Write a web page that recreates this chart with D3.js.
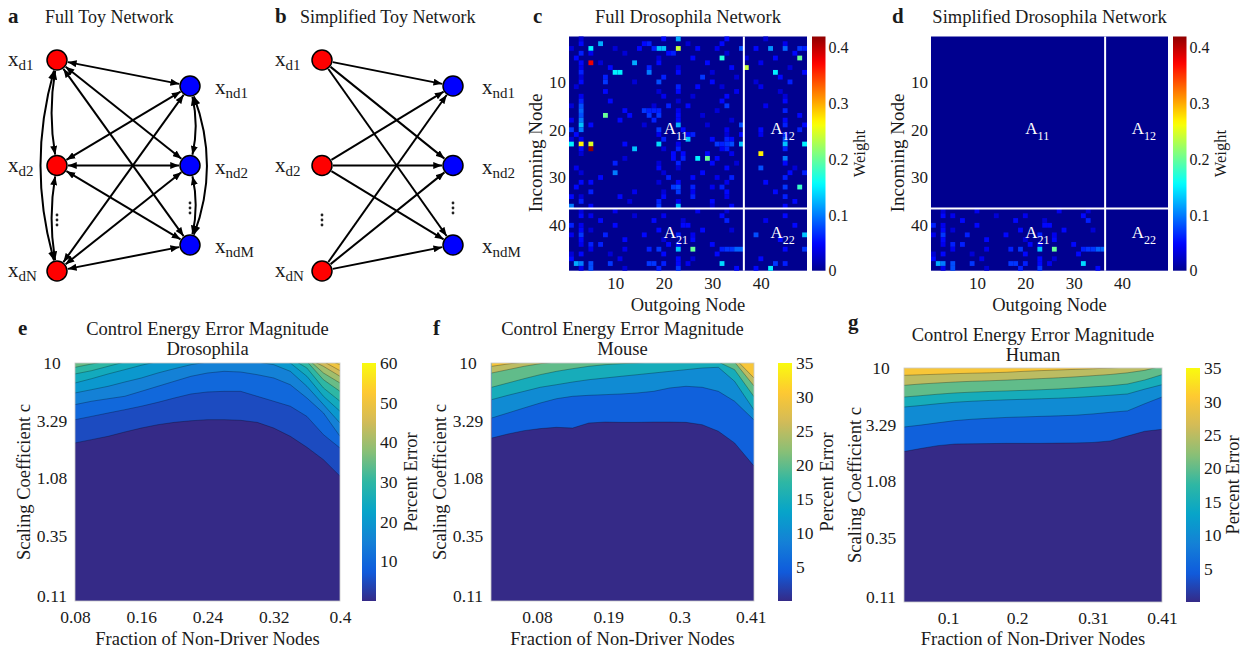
<!DOCTYPE html>
<html>
<head>
<meta charset="utf-8">
<script src="https://cdn.jsdelivr.net/npm/d3@7"></script>
<style>
body{margin:0;background:#fff}
svg text{font-family:"Liberation Serif","Times New Roman",serif;fill:#1a1a1a}
</style>
</head>
<body>
<div id="figura"></div>
<script>
// ---------- data ----------
// toy networks
var driverNames=["d1","d2","dN"]
var nonDriverNames=["nd1","nd2","ndM"]

// drosophila connectivity: [incoming row, outgoing column, weight]
var nodeCount=49
var nonDriverCount=36
var weightMax=0.42
var nodeTicks=[10,20,30,40]
var weightTicks=[0,0.1,0.2,0.3,0.4]
var weightCells=[
 [1,23,0.12],[1,20,0.05],[1,33,0.05],[1,3,0.03],[1,41,0.03],
 [2,7,0.12],[2,3,0.05],[2,16,0.05],[2,17,0.06],[2,32,0.05],[2,25,0.03],[2,45,0.04],
 [3,5,0.15],[3,19,0.13],[3,20,0.13],[3,23,0.24],[3,36,0.08],[3,42,0.11],[3,45,0.09],[3,48,0.07],[3,15,0.05],[3,18,0.06],[3,27,0.05],[3,39,0.05],[3,49,0.06],[3,1,0.03],[3,10,0.03],[3,31,0.04],
 [4,3,0.06],[4,21,0.05],[4,22,0.06],[4,47,0.05],[4,5,0.04],[4,12,0.03],[4,33,0.03],
 [5,32,0.17],[5,48,0.2],[5,2,0.05],[5,26,0.05],[5,43,0.05],[5,19,0.03],[5,37,0.03],
 [6,5,0.38],[6,14,0.12],[6,3,0.05],[6,19,0.05],[6,29,0.05],[6,7,0.03],[6,40,0.04],
 [7,37,0.24],[7,9,0.05],[7,17,0.06],[7,34,0.05],[7,3,0.04],[7,23,0.03],[7,46,0.03],
 [8,10,0.15],[8,11,0.15],[8,17,0.1],[8,3,0.06],[8,23,0.05],[8,43,0.15],[8,49,0.05],[8,30,0.03],
 [9,8,0.06],[9,20,0.06],[9,28,0.07],[9,44,0.05],[9,3,0.03],[9,35,0.03],
 [10,8,0.07],[10,19,0.08],[10,30,0.05],[10,3,0.05],[10,46,0.06],[10,14,0.03],[10,39,0.03],
 [11,27,0.05],[11,23,0.06],[11,40,0.04],[11,2,0.03],[11,32,0.03],
 [12,8,0.05],[12,23,0.05],[12,35,0.04],[12,19,0.03],[12,44,0.03],
 [13,33,0.05],[13,20,0.04],[13,3,0.04],[13,26,0.03],[13,45,0.03],
 [14,3,0.06],[14,9,0.05],[14,32,0.05],[14,45,0.05],[14,23,0.03],
 [15,3,0.08],[15,21,0.06],[15,33,0.07],[15,25,0.05],[15,41,0.04],[15,1,0.03],[15,18,0.03],
 [16,3,0.09],[16,16,0.07],[16,17,0.06],[16,18,0.06],[16,19,0.06],[16,12,0.05],[16,45,0.06],[16,23,0.04],[16,31,0.03],
 [17,8,0.2],[17,3,0.08],[17,17,0.07],[17,19,0.07],[17,13,0.05],[17,23,0.05],[17,48,0.05],[17,28,0.03],
 [18,3,0.1],[18,11,0.05],[18,18,0.06],[18,23,0.05],[18,45,0.05],[18,1,0.04],[18,34,0.03],
 [19,3,0.13],[19,23,0.12],[19,5,0.05],[19,36,0.08],[19,45,0.06],[19,49,0.05],[19,16,0.03],[19,29,0.03],
 [20,3,0.1],[20,1,0.07],[20,19,0.07],[20,24,0.05],[20,40,0.05],[20,48,0.06],[20,33,0.04],
 [21,2,0.05],[21,25,0.05],[21,26,0.06],[21,36,0.05],[21,40,0.04],[21,45,0.06],[21,19,0.04],[21,33,0.03],
 [22,25,0.13],[22,20,0.06],[22,30,0.05],[22,33,0.06],[22,34,0.05],[22,45,0.08],[22,3,0.04],[22,1,0.03],
 [23,1,0.15],[23,3,0.27],[23,5,0.25],[23,19,0.14],[23,36,0.13],[23,45,0.13],[23,49,0.15],[23,12,0.05],[23,31,0.07],[23,32,0.06],[23,33,0.07],[23,34,0.08],[23,23,0.04],
 [24,5,0.42],[24,14,0.13],[24,3,0.05],[24,23,0.06],[24,33,0.06],[24,45,0.06],[24,32,0.04],[24,20,0.03],
 [25,40,0.27],[25,22,0.05],[25,24,0.05],[25,29,0.05],[25,34,0.04],[25,3,0.03],
 [26,27,0.15],[26,29,0.2],[26,45,0.1],[26,22,0.05],[26,31,0.05],[26,24,0.06],[26,12,0.03],
 [27,10,0.06],[27,23,0.06],[27,30,0.05],[27,45,0.05],[27,19,0.03],[27,35,0.03],
 [28,40,0.08],[28,19,0.05],[28,33,0.05],[28,2,0.04],[28,23,0.03],[28,47,0.03],
 [29,10,0.1],[29,28,0.05],[29,46,0.05],[29,49,0.06],[29,3,0.03],[29,20,0.03],
 [30,7,0.05],[30,21,0.06],[30,26,0.05],[30,34,0.06],[30,45,0.06],[30,31,0.04],
 [31,3,0.05],[31,5,0.05],[31,23,0.05],[31,41,0.05],[31,19,0.03],[31,33,0.04],
 [32,48,0.18],[32,23,0.08],[32,22,0.07],[32,26,0.06],[32,32,0.06],[32,2,0.05],[32,45,0.07],[32,30,0.04],
 [33,5,0.06],[33,23,0.07],[33,33,0.05],[33,14,0.04],[33,43,0.05],[33,20,0.03],[33,26,0.04],
 [34,1,0.05],[34,11,0.05],[34,20,0.05],[34,26,0.06],[34,45,0.06],[34,33,0.04],[34,3,0.03],
 [35,3,0.06],[35,19,0.06],[35,30,0.05],[35,47,0.05],[35,23,0.04],[35,13,0.03],
 [36,1,0.1],[36,23,0.13],[36,19,0.07],[36,5,0.05],[36,34,0.05],[36,45,0.05],[36,30,0.03],
 [37,10,0.04],[37,27,0.04],[37,3,0.03],[37,33,0.03],
 [38,3,0.05],[38,5,0.04],[38,20,0.04],[38,32,0.05],[38,45,0.05],[38,14,0.03],
 [39,7,0.05],[39,18,0.05],[39,33,0.06],[39,41,0.04],[39,24,0.03],
 [40,1,0.06],[40,10,0.05],[40,24,0.05],[40,25,0.05],[40,47,0.05],[40,3,0.04],
 [41,3,0.05],[41,19,0.05],[41,28,0.05],[41,5,0.03],[41,34,0.03],
 [42,3,0.07],[42,39,0.08],[42,49,0.13],[42,8,0.06],[42,16,0.05],[42,23,0.06],[42,1,0.04],[42,26,0.04],
 [43,3,0.05],[43,12,0.05],[43,26,0.05],[43,44,0.05],[43,20,0.03],
 [44,5,0.06],[44,7,0.06],[44,21,0.05],[44,30,0.05],[44,23,0.04],[44,3,0.04],
 [45,23,0.13],[45,26,0.2],[45,35,0.09],[45,36,0.09],[45,19,0.07],[45,17,0.06],[45,32,0.06],[45,33,0.07],[45,34,0.07],[45,49,0.07],[45,45,0.05],[45,5,0.04],[45,12,0.04],
 [46,3,0.05],[46,20,0.05],[46,31,0.05],[46,1,0.03],[46,9,0.03],
 [47,1,0.05],[47,23,0.05],[47,11,0.04],[47,40,0.05],[47,26,0.03],
 [48,2,0.12],[48,3,0.1],[48,5,0.08],[48,9,0.07],[48,32,0.14],[48,17,0.07],[48,18,0.07],[48,20,0.06],[48,43,0.07],[48,45,0.06],[48,23,0.05],[48,25,0.04],
 [49,5,0.08],[49,42,0.15],[49,19,0.06],[49,23,0.07],[49,35,0.05],[49,39,0.05],[49,3,0.04],[49,12,0.03]
]

// contour plots: c value of each error level boundary along the fraction axis
var scaleTicks=[0.11,0.35,1.08,3.29,10]

var fracE=[0.08,0.10,0.12,0.14,0.16,0.18,0.20,0.22,0.24,0.26,0.28,0.30,0.32,0.34,0.36,0.38,0.40]
var levelsE=[5,10,15,20,25,30,35,40,45,50,55]
var boundE=[
 [2.13,2.27,2.42,2.63,2.84,3.03,3.17,3.27,3.34,3.34,3.30,3.17,2.84,2.42,1.96,1.54,1.12],
 [3.34,3.56,3.80,4.05,4.33,4.67,5.08,5.49,5.71,5.78,5.78,5.25,4.77,4.33,3.56,2.50,1.93],
 [4.47,4.77,5.01,5.25,5.78,6.37,7.02,7.73,8.24,8.51,8.40,7.98,7.48,6.57,5.08,3.80,2.42],
 [5.60,5.97,6.37,6.92,7.48,8.24,8.96,9.68,10.2,10.3,10.3,10.2,9.68,8.51,6.37,4.47,3.13],
 [6.79,7.38,8.09,8.79,9.57,10.3,11,11,11,11,11,11,11,10.0,7.73,5.25,3.93],
 [8.09,8.62,9.38,10.2,11,11,11,11,11,11,11,11,11,11,9.08,6.17,4.77],
 [9.20,9.81,10.4,11,11,11,11,11,11,11,11,11,11,11,10.3,7.24,5.78],
 [10.05,10.6,11,11,11,11,11,11,11,11,11,11,11,11,11,8.24,6.79],
 [11,11,11,11,11,11,11,11,11,11,11,11,11,11,11,9.38,7.73],
 [11,11,11,11,11,11,11,11,11,11,11,11,11,11,11,10.3,8.62],
 [11,11,11,11,11,11,11,11,11,11,11,11,11,11,11,11,9.68]
]
var fracTicksE=[0.08,0.16,0.24,0.32,0.4]
var errTicksE=[10,20,30,40,50,60]

var fracF=[0.01,0.035,0.06,0.085,0.11,0.135,0.16,0.185,0.21,0.235,0.26,0.285,0.31,0.335,0.36,0.385,0.415]
var levelsF=[5,10,15,20,25,30]
var boundF=[
 [2.34,2.53,2.70,2.81,2.88,2.84,3.13,3.19,3.17,3.17,3.19,3.19,3.17,3.03,2.67,2.13,1.36],
 [3.45,3.80,4.19,4.61,5.01,5.25,5.35,5.42,5.49,5.60,5.78,6.17,6.37,6.25,5.78,4.77,3.32],
 [4.92,5.35,5.78,6.25,6.57,6.92,7.24,7.48,7.73,7.98,8.24,8.51,8.79,9.08,9.20,7.02,4.03],
 [6.25,6.79,7.38,7.98,8.51,8.96,9.38,9.68,9.87,10.0,10.2,10.3,10.3,10.3,10.2,8.79,5.21],
 [8.24,8.79,9.38,9.87,10.2,11,11,11,11,11,11,11,11,11,11,10.2,6.41],
 [9.38,9.81,10.2,11,11,11,11,11,11,11,11,11,11,11,11,11,7.48]
]
var fracTicksF=[0.08,0.19,0.3,0.41]

var fracG=[0.036,0.06,0.085,0.11,0.135,0.16,0.185,0.21,0.235,0.26,0.285,0.31,0.335,0.36,0.385,0.41]
var levelsG=[5,10,15,20,25,30]
var boundG=[
 [1.93,2.05,2.17,2.24,2.25,2.26,2.27,2.27,2.27,2.28,2.29,2.31,2.38,2.62,2.88,2.99],
 [3.13,3.25,3.40,3.55,3.65,3.72,3.78,3.82,3.86,3.90,3.95,4.05,4.18,4.30,4.95,5.65],
 [4.64,4.78,4.95,5.10,5.20,5.28,5.35,5.40,5.46,5.52,5.60,5.72,5.85,6.00,6.60,7.20],
 [5.65,5.80,5.97,6.12,6.22,6.30,6.37,6.44,6.52,6.62,6.75,6.90,7.05,7.30,7.90,8.77],
 [7.11,7.30,7.45,7.59,7.70,7.78,7.88,8.00,8.12,8.25,8.40,8.60,8.80,9.10,9.55,10.4],
 [8.66,8.75,8.85,8.95,9.03,9.10,9.20,9.37,9.50,9.62,9.74,9.85,10.0,10.2,10.5,11]
]
var fracTicksG=[0.1,0.2,0.31,0.41]
var errTicksFG=[5,10,15,20,25,30,35]

// ---------- drawing ----------
var svg=d3.select("#figura").append("svg").attr("width",1257).attr("height",656)
var defs=svg.append("defs")

var parula=d3.piecewise(d3.interpolateRgb,["#352a87","#0f5cdd","#1481d6","#06a4ca","#2eb7a4","#87bf77","#d1bb59","#fec832","#f9fb0e"])
function jet(t){
	// matlab jet(64) starts at 0.5625 blue
	t=0.0156+Math.max(0,Math.min(1,t))*0.9688
	var r=Math.max(0,Math.min(1,1.5-Math.abs(4*t-3)))
	var g=Math.max(0,Math.min(1,1.5-Math.abs(4*t-2)))
	var b=Math.max(0,Math.min(1,1.5-Math.abs(4*t-1)))
	return d3.rgb(r*255,g*255,b*255).toString()
}

function texto(x,y,s,size,anchor,weight){
	return svg.append("text").attr("x",x).attr("y",y)
		.attr("text-anchor",anchor||"start")
		.style("font-size",size+"px")
		.style("font-weight",weight||"normal")
		.text(s)
}
function textoVertical(x,y,s,size){
	return svg.append("text")
		.attr("transform","translate("+x+","+y+") rotate(-90)")
		.attr("text-anchor","middle")
		.style("font-size",size+"px")
		.text(s)
}

// arrow head
defs.append("marker").attr("id","flecha")
	.attr("viewBox","0 -4 10 8").attr("refX",10).attr("refY",0)
	.attr("markerWidth",9).attr("markerHeight",7)
	.attr("markerUnits","userSpaceOnUse")
	.attr("orient","auto-start-reverse")
	.append("path").attr("d","M0,-4L10,0L0,4Z").style("fill","#000")

function toyNetwork(cfg){
	var r=10
	var yD=d3.scalePoint().domain(driverNames).range([60,271])
	var yN=d3.scalePoint().domain(nonDriverNames).range([86,245])
	var P={}
	driverNames.forEach(n=>P[n]={x:cfg.xd,y:yD(n)})
	nonDriverNames.forEach(n=>P[n]={x:cfg.xn,y:yN(n)})
	var g=svg.append("g")

	function recta(a,b,both){
		var dx=b.x-a.x,dy=b.y-a.y,l=Math.hypot(dx,dy),ux=dx/l,uy=dy/l
		var p=g.append("path")
			.attr("d","M"+(a.x+ux*(r+1))+","+(a.y+uy*(r+1))+"L"+(b.x-ux*(r+1))+","+(b.y-uy*(r+1)))
			.style("stroke","#000").style("stroke-width",2).style("fill","none")
			.attr("marker-end","url(#flecha)")
		if(both) p.attr("marker-start","url(#flecha)")
	}
	function curva(a,b,off){
		var cx=(a.x+b.x)/2+off,cy=(a.y+b.y)/2
		function borde(p){var dx=cx-p.x,dy=cy-p.y,l=Math.hypot(dx,dy);return [p.x+dx/l*(r+1),p.y+dy/l*(r+1)]}
		var s=borde(a),e=borde(b)
		g.append("path").attr("d","M"+s+"Q"+cx+","+cy+" "+e)
			.style("stroke","#000").style("stroke-width",2).style("fill","none")
			.attr("marker-end","url(#flecha)").attr("marker-start","url(#flecha)")
	}

	driverNames.forEach(function(d){
		nonDriverNames.forEach(function(n){recta(P[d],P[n],cfg.full)})
	})
	if(cfg.full){
		curva(P.d1,P.d2,-9); curva(P.d2,P.dN,-9); curva(P.d1,P.dN,-30)
		curva(P.nd1,P.nd2,9); curva(P.nd2,P.ndM,9); curva(P.nd1,P.ndM,30)
	}
	// nodes
	g.selectAll(".drv").data(driverNames).enter().append("circle")
		.attr("cx",cfg.xd).attr("cy",d=>yD(d)).attr("r",r)
		.style("fill","#ff0000").style("stroke","#000").style("stroke-width",1.5)
	g.selectAll(".ndrv").data(nonDriverNames).enter().append("circle")
		.attr("cx",cfg.xn).attr("cy",d=>yN(d)).attr("r",r)
		.style("fill","#0000ff").style("stroke","#000").style("stroke-width",1.5)
	// vertical dots
	;[[cfg.xd,220],[cfg.xn,208]].forEach(function(p){
		[-5,0,5].forEach(function(o){
			g.append("circle").attr("cx",p[0]).attr("cy",p[1]+o).attr("r",1.4).style("fill","#222")
		})
	})
	// labels
	function etiqueta(x,y,sub){
		var t=svg.append("text").attr("x",x).attr("y",y).style("font-size","21px")
		t.append("tspan").text("x")
		t.append("tspan").attr("dy",4).style("font-size","15px").text(sub)
	}
	driverNames.forEach(n=>etiqueta(cfg.labD,yD(n)+6,n))
	nonDriverNames.forEach(n=>etiqueta(cfg.labN,yN(n)+8,n))
	texto(cfg.letraX,23,cfg.letra,21,"start","bold")
	texto(cfg.tituloX,23,cfg.titulo,18,"start")
}

function colorbar(cfg){
	var id="grad"+cfg.id
	var grad=defs.append("linearGradient").attr("id",id)
		.attr("x1",0).attr("y1",1).attr("x2",0).attr("y2",0)
	d3.range(0,1.0001,0.02).forEach(function(t){
		grad.append("stop").attr("offset",t).attr("stop-color",cfg.cmap(t))
	})
	svg.append("rect").attr("x",cfg.x).attr("y",cfg.top)
		.attr("width",cfg.w).attr("height",cfg.bottom-cfg.top)
		.style("fill","url(#"+id+")")
	var s=d3.scaleLinear().domain(cfg.domain).range([cfg.bottom,cfg.top])
	svg.append("g").attr("transform","translate("+(cfg.x+cfg.w)+",0)")
		.call(d3.axisRight(s).tickValues(cfg.ticks).tickSize(0).tickPadding(cfg.pad).tickFormat(cfg.fmt))
		.attr("font-size",cfg.size)
		.call(g=>g.select(".domain").remove())
	textoVertical(cfg.labelX,(cfg.top+cfg.bottom)/2,cfg.label,cfg.labelSize)
}

function heatmap(cfg){
	var x=d3.scaleLinear().domain([0.5,nodeCount+0.5]).range([cfg.left,cfg.right])
	var y=d3.scaleLinear().domain([0.5,nodeCount+0.5]).range([cfg.top,cfg.bottom])
	var color=d3.scaleSequential(jet).domain([0,weightMax])
	var cw=x(1.5)-x(0.5), ch=y(1.5)-y(0.5)
	svg.append("rect").attr("x",cfg.left).attr("y",cfg.top)
		.attr("width",cfg.right-cfg.left).attr("height",cfg.bottom-cfg.top)
		.style("fill",color(0))
	svg.append("g").selectAll("rect")
		.data(weightCells.filter(cfg.keep))
		.enter().append("rect")
		.attr("x",d=>x(d[1]-0.5)).attr("y",d=>y(d[0]-0.5))
		.attr("width",cw).attr("height",ch)
		.style("fill",d=>color(d[2]))
	// block separators
	svg.append("line").attr("x1",x(nonDriverCount+0.5)).attr("x2",x(nonDriverCount+0.5))
		.attr("y1",cfg.top).attr("y2",cfg.bottom).style("stroke","#fff").style("stroke-width",2)
	svg.append("line").attr("y1",y(nonDriverCount+0.5)).attr("y2",y(nonDriverCount+0.5))
		.attr("x1",cfg.left).attr("x2",cfg.right).style("stroke","#fff").style("stroke-width",2)
	// block names
	;[["11",20,20.8],["12",42,20.8],["21",20,42.7],["22",42,42.7]].forEach(function(b){
		var t=svg.append("text").attr("x",x(b[1])).attr("y",y(b[2])).style("font-size","17px").style("fill","#fff")
		t.append("tspan").text("A")
		t.append("tspan").attr("dy",6).style("font-size","12px").style("fill","#fff").text(b[0])
	})
	svg.append("g").attr("transform","translate(0,"+cfg.bottom+")")
		.call(d3.axisBottom(x).tickValues(nodeTicks).tickSize(0).tickPadding(6))
		.attr("font-size",17)
		.call(g=>g.select(".domain").remove())
	svg.append("g").attr("transform","translate("+cfg.left+",0)")
		.call(d3.axisLeft(y).tickValues(nodeTicks).tickSize(0).tickPadding(3))
		.attr("font-size",17)
		.call(g=>g.select(".domain").remove())
	texto(cfg.letraX,23,cfg.letra,21,"start","bold")
	texto((cfg.left+cfg.right)/2,23,cfg.titulo,18.5,"middle")
	texto((cfg.left+cfg.right)/2,311,"Outgoing Node",18.5,"middle")
	textoVertical(cfg.yLabX,153,"Incoming Node",19)
	colorbar({id:cfg.letra,x:cfg.right+5,w:13.5,top:cfg.top,bottom:cfg.bottom,cmap:jet,
		domain:[0,weightMax],ticks:weightTicks,fmt:d3.format(".1~f"),pad:3,size:16,
		label:"Weight",labelX:cfg.right+58,labelSize:16.5})
}

function contourPanel(cfg){
	var x=d3.scaleLinear().domain(cfg.xDomain).range([cfg.left,cfg.right])
	var y=d3.scaleLog().domain([0.1,10]).range([cfg.bottom,cfg.top])
	var color=function(v){return parula(v/cfg.vmax)}
	defs.append("clipPath").attr("id","clip"+cfg.id).append("rect")
		.attr("x",cfg.left).attr("y",cfg.top)
		.attr("width",cfg.right-cfg.left).attr("height",cfg.bottom-cfg.top)
	var g=svg.append("g").attr("clip-path","url(#clip"+cfg.id+")")
	g.append("rect").attr("x",cfg.left).attr("y",cfg.top)
		.attr("width",cfg.right-cfg.left).attr("height",cfg.bottom-cfg.top)
		.style("fill",color(0))
	var area=d3.area().x(d=>x(d[0])).y0(d=>y(d[1])).y1(y(50))
	var line=d3.line().x(d=>x(d[0])).y(d=>y(d[1]))
	var curvas=cfg.levels.map((lv,i)=>cfg.frac.map((f,j)=>[f,cfg.bounds[i][j]]))
	curvas.forEach(function(pts,i){
		g.append("path").attr("d",area(pts)).style("fill",color(cfg.levels[i]))
	})
	curvas.forEach(function(pts){
		g.append("path").attr("d",line(pts))
			.style("fill","none").style("stroke","#000").style("stroke-opacity",0.35).style("stroke-width",0.8)
	})
	svg.append("rect").attr("x",cfg.left).attr("y",cfg.top)
		.attr("width",cfg.right-cfg.left).attr("height",cfg.bottom-cfg.top)
		.style("fill","none").style("stroke","#c8c8c8").style("stroke-width",0.8)

	svg.append("g").attr("transform","translate(0,"+cfg.bottom+")")
		.call(d3.axisBottom(x).tickValues(cfg.xTicks).tickSize(0).tickPadding(10).tickFormat(d=>String(d)))
		.attr("font-size",17.5)
		.call(g=>g.select(".domain").remove())
	svg.append("g").attr("transform","translate("+cfg.left+",0)")
		.call(d3.axisLeft(y).tickValues(scaleTicks).tickSize(0).tickFormat(d=>String(d)))
		.attr("font-size",17.5)
		.call(g=>g.select(".domain").remove())
		.call(g=>g.selectAll(".tick text").attr("text-anchor","middle").attr("x",-23))

	var cx=(cfg.left+cfg.right)/2
	texto(cfg.letraX,cfg.letraY,cfg.letra,21,"start","bold")
	texto(cx,cfg.tituloY,"Control Energy Error Magnitude",18.5,"middle")
	texto(cx,cfg.tituloY+20,cfg.especie,18.5,"middle")
	texto(cx,645,"Fraction of Non-Driver Nodes",18.5,"middle")
	textoVertical(cfg.yLabX,(cfg.top+cfg.bottom)/2,"Scaling Coefficient c",18.5)
	colorbar({id:cfg.id,x:cfg.cbX,w:14,top:cfg.top,bottom:cfg.bottom,cmap:parula,
		domain:[0,cfg.vmax],ticks:cfg.cbTicks,fmt:d3.format("d"),pad:4,size:17.5,
		label:"Percent Error",labelX:cfg.cbLabX,labelSize:18.5})
}

// ---------- panels ----------
toyNetwork({full:true,xd:57,xn:190,labD:8,labN:215,letra:"a",letraX:8,titulo:"Full Toy Network",tituloX:45})
toyNetwork({full:false,xd:322,xn:453,labD:275,labN:482,letra:"b",letraX:275,titulo:"Simplified Toy Network",tituloX:300})

heatmap({letra:"c",letraX:533,titulo:"Full Drosophila Network",left:569,right:807,top:36.5,bottom:270.7,yLabX:542,
	keep:d=>true})
heatmap({letra:"d",letraX:892,titulo:"Simplified Drosophila Network",left:931,right:1168,top:36.5,bottom:270.7,yLabX:904,
	keep:d=>d[0]>nonDriverCount&&d[1]<=nonDriverCount})

contourPanel({id:"e",letra:"e",especie:"Drosophila",letraX:18,letraY:335,tituloY:335,
	left:75,right:340,top:363,bottom:601,xDomain:[0.08,0.40],xTicks:fracTicksE,
	frac:fracE,levels:levelsE,bounds:boundE,vmax:60,cbTicks:errTicksE,
	cbX:362,cbLabX:417,yLabX:30})
contourPanel({id:"f",letra:"f",especie:"Mouse",letraX:433,letraY:335,tituloY:335,
	left:491,right:754,top:363,bottom:601,xDomain:[0.009,0.415],xTicks:fracTicksF,
	frac:fracF,levels:levelsF,bounds:boundF,vmax:35,cbTicks:errTicksFG,
	cbX:778,cbLabX:833,yLabX:446})
contourPanel({id:"g",letra:"g",especie:"Human",letraX:848,letraY:329,tituloY:341,
	left:904,right:1162,top:368,bottom:602,xDomain:[0.036,0.41],xTicks:fracTicksG,
	frac:fracG,levels:levelsG,bounds:boundG,vmax:35,cbTicks:errTicksFG,
	cbX:1186,cbLabX:1239,yLabX:861})
</script>
</body>
</html>
